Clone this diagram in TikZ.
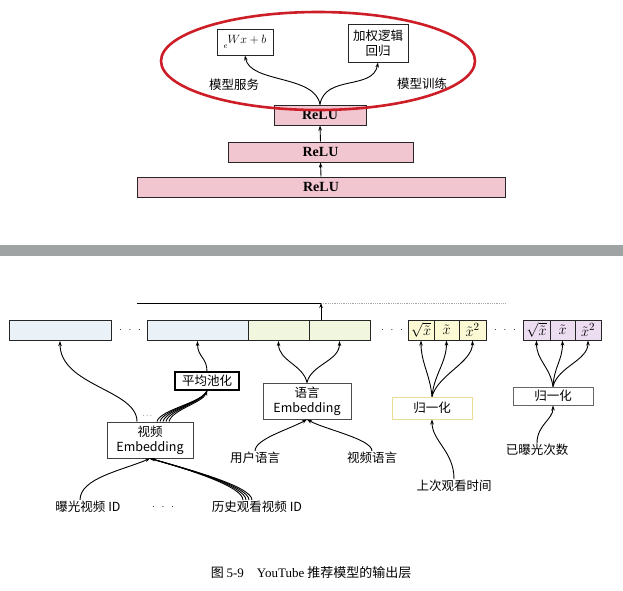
\documentclass[tikz,border=0pt]{standalone}
\usepackage[no-math]{fontspec}
\usepackage{amsmath}
\setmainfont{Noto Sans CJK SC}
\newfontfamily\relufont{Liberation Serif}
\newfontfamily\capfont{Liberation Serif}
\usetikzlibrary{arrows.meta,positioning}
\definecolor{relupink}{RGB}{242,198,208}
\definecolor{ringred}{RGB}{205,30,40}
\definecolor{bandgray}{RGB}{160,163,163}
\definecolor{cellblue}{RGB}{234,242,247}
\definecolor{cellgreen}{RGB}{241,246,222}
\definecolor{cellyellow}{RGB}{252,250,212}
\definecolor{cellpurple}{RGB}{236,221,241}
\definecolor{normyellow}{RGB}{232,222,150}
\newcommand{\skipdots}{$\cdot\;\,\cdot\;\,\cdot$}

\begin{document}
\begin{tikzpicture}[x=1pt, y=-1pt,
    layer/.style={rectangle, draw=black!85, line width=1pt, fill=relupink, minimum height=20pt, inner sep=0pt, font=\relufont\bfseries\fontsize{14}{16}\selectfont},
    outbox/.style={rectangle, draw=black!85, line width=0.9pt, fill=white, inner sep=0pt, align=center, font=\fontsize{12.5}{15}\selectfont},
    embcell/.style={rectangle, draw=black!85, line width=1pt, minimum height=20pt, inner sep=0pt, font=\fontsize{15}{17}\selectfont},
    lbl/.style={inner sep=1pt, font=\fontsize{12.5}{15}\selectfont},
    arr/.style={-{Stealth[length=5pt,width=3.5pt]}, line width=0.9pt},
    link/.style={line width=0.9pt}
]
\useasboundingbox (0,0) rectangle (623,590);

% Output heads
\node[outbox, minimum width=56pt, minimum height=26pt, font=\fontsize{12}{14}\selectfont] (ebox) at (245,42) {{\footnotesize$e$}\raisebox{5pt}{$Wx+b$}};
\node[outbox, minimum width=60pt, minimum height=38pt] (lrbox) at (378,43) {加权逻辑\\回归};
\node[lbl] (serve) at (234,85) {模型服务};
\node[lbl] (train) at (422,84) {模型训练};

% ReLU stack
\node[layer, minimum width=92pt] (relu1) at (320,115) {ReLU};
\node[layer, minimum width=185pt] (relu2) at (320.5,152) {ReLU};
\node[layer, minimum width=368pt] (relu3) at (321,187) {ReLU};

\draw[arr] (relu1.north) .. controls +(-5,-30) and +(5,28) .. (ebox.south);
\draw[arr] (relu1.north) .. controls +(5,-30) and +(-5,28) .. (lrbox.south);
\draw[arr] (relu2.north) -- (relu1.south);
\draw[arr] (relu3.north) -- (relu2.south);

\draw[ringred, line width=2.6pt] (318,61) ellipse [x radius=157, y radius=49];

% separator
\fill[bandgray] (0,245) rectangle (623,256);

% Concatenated input
\coordinate (lineL) at (137,303);
\coordinate (ctop) at (321,303);
\coordinate (lineR) at (505,303);
\coordinate (cbase) at (321,320);
\draw[line width=1pt] (lineL) -- (ctop);
\draw[black!35, densely dotted, line width=0.8pt] (ctop) -- (lineR);
\draw[arr] (cbase) -- (ctop);

\node[embcell, fill=cellblue, minimum width=102pt] (embA) at (60,330.5) {};
\node (dotsA) at (130,330) {\skipdots};
\node[embcell, fill=cellblue, minimum width=101pt] (embB) at (197.5,330.5) {};
\node[embcell, fill=cellgreen, minimum width=61pt] (embC) at (278.5,330.5) {};
\node[embcell, fill=cellgreen, minimum width=61pt] (embD) at (339.5,330.5) {};
\node (dotsB) at (392,330) {\skipdots};
\node[embcell, fill=cellyellow, minimum width=26pt] (e1) at (421,330) {$\sqrt{\tilde{x}}$};
\node[embcell, fill=cellyellow, minimum width=25pt] (e2) at (446.5,330) {$\tilde{x}$};
\node[embcell, fill=cellyellow, minimum width=27pt] (e3) at (472.5,330) {$\tilde{x}^2$};
\node (dotsC) at (505,330) {\skipdots};
\node[embcell, fill=cellpurple, minimum width=27pt] (f1) at (536.5,330) {$\sqrt{\tilde{x}}$};
\node[embcell, fill=cellpurple, minimum width=25pt] (f2) at (562.5,330) {$\tilde{x}$};
\node[embcell, fill=cellpurple, minimum width=26pt] (f3) at (588,330) {$\tilde{x}^2$};

% Video branch
\node[outbox, draw=black, line width=1.2pt, minimum width=64pt, minimum height=18pt] (pool) at (207,381) {平均池化};
\node[outbox, draw=black!75, minimum width=86pt, minimum height=36pt] (vemb) at (150,440) {视频\\Embedding};
\node[inner sep=0pt, font=\scriptsize] (vdots) at (148,416) {$\cdots$};
\node[lbl] (expo) at (88,507) {曝光视频 ID};
\node (hdots) at (163,507) {\skipdots};
\node[lbl] (hist) at (257,507) {历史观看视频 ID};

\draw[arr] ([xshift=-13pt]vemb.north) .. controls +(0,-32) and +(0,45) .. (embA.south);
\foreach \dx in {7,10,13,16} {
  \draw[link] ([xshift=\dx pt]vemb.north) .. controls +(3,-12) and +(-4,12) .. (pool.south);
}
\draw[arr] ([xshift=19pt]vemb.north) .. controls +(3,-12) and +(-4,12) .. (pool.south);
\draw[arr] (pool.north) .. controls +(0,-14) and +(0,16) .. (embB.south);
\draw[arr] ([xshift=-8pt]expo.north) .. controls +(0,-22) and +(-28,12) .. (vemb.south);
\foreach \dx in {-14,-11,-8} {
  \draw[link] ([xshift=\dx pt]hist.north) .. controls +(0,-14) and +(35,10) .. (vemb.south);
}
\draw[arr] ([xshift=-5pt]hist.north) .. controls +(0,-14) and +(35,10) .. (vemb.south);

% Language branch
\node[outbox, draw=black!70, minimum width=88pt, minimum height=36pt] (lemb) at (307,401) {语言\\Embedding};
\node[lbl] (userlang) at (255,458) {用户语言};
\node[lbl] (vidlang) at (372,458) {视频语言};
\draw[arr] (lemb.north) .. controls +(-4,-18) and +(0,20) .. (embC.south);
\draw[arr] (lemb.north) .. controls +(4,-18) and +(0,20) .. (embD.south);
\draw[arr] (userlang.north) .. controls +(0,-12) and +(-18,10) .. (lemb.south);
\draw[arr] (vidlang.north) .. controls +(0,-12) and +(18,10) .. (lemb.south);

% Time since last watch
\node[outbox, draw=normyellow, minimum width=80pt, minimum height=22pt] (norm1) at (432,408) {归一化};
\node[lbl] (last) at (454,486) {上次观看时间};
\draw[arr] (norm1.north) .. controls +(-2,-22) and +(0,22) .. (e1.south);
\draw[arr] (norm1.north) .. controls +(2,-22) and +(0,22) .. (e2.south);
\draw[arr] (norm1.north) .. controls +(6,-22) and +(0,22) .. (e3.south);
\draw[arr] (last.north) .. controls +(0,-28) and +(0,22) .. (norm1.south);

% Number of impressions
\node[outbox, draw=black!60, minimum width=80pt, minimum height=18pt] (norm2) at (553,396) {归一化};
\node[lbl] (count) at (537,450) {已曝光次数};
\draw[arr] (norm2.north) .. controls +(-3,-20) and +(0,20) .. (f1.south);
\draw[arr] (norm2.north) .. controls +(1,-20) and +(0,20) .. (f2.south);
\draw[arr] (norm2.north) .. controls +(5,-20) and +(0,20) .. (f3.south);
\draw[arr] (count.north) .. controls +(0,-18) and +(0,14) .. (norm2.south);

% Caption
\node[font=\fontsize{13}{15}\selectfont] (caption) at (311,573) {图 {\capfont 5-9}\quad{\capfont YouTube} 推荐模型的输出层};

\end{tikzpicture}
\end{document}
